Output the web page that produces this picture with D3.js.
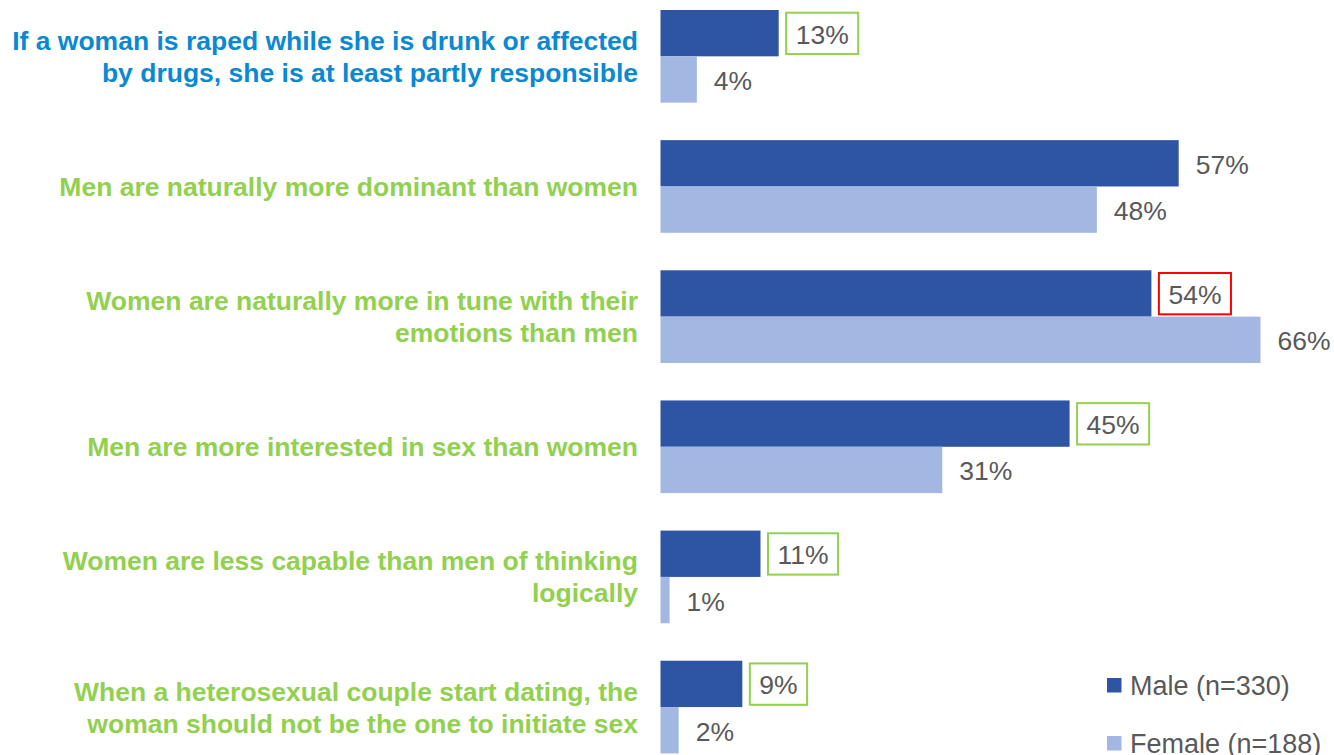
<!DOCTYPE html>
<html>
<head>
<meta charset="utf-8">
<script src="https://cdn.jsdelivr.net/npm/d3@7"></script>
<style>
  html, body { margin: 0; padding: 0; background: #ffffff; }
  svg { display: block; }
  text { font-family: "Liberation Sans", Arial, Helvetica, sans-serif; }
</style>
</head>
<body>
<svg id="chart" width="1334" height="755"></svg>
<script>
// Statements (each "|" starts a new line in the label)
const statements = [
  "If a woman is raped while she is drunk or affected|by drugs, she is at least partly responsible",
  "Men are naturally more dominant than women",
  "Women are naturally more in tune with their|emotions than men",
  "Men are more interested in sex than women",
  "Women are less capable than men of thinking|logically",
  "When a heterosexual couple start dating, the|woman should not be the one to initiate sex"
];
// Share agreeing, in percent
const maleValues   = [13, 57, 54, 45, 11, 9];
const femaleValues = [4, 48, 66, 31, 1, 2];
// Call-out on the male value: "up" = flagged higher, "down" = flagged lower, null = none
const maleFlags = ["up", null, "down", "up", "up", "up"];
// Statement emphasised in the heading colour
const emphasised = [true, false, false, false, false, false];
const seriesNames = ["Male (n=330)", "Female (n=188)"];

const COLORS = {
  male: "#2E54A4",
  female: "#A2B8E2",
  value: "#595959",
  labelGreen: "#92D050",
  labelBlue: "#0A88D2",
  boxUp: "#92D050",
  boxDown: "#FF0000"
};

const svg = d3.select("#chart");

const rows = statements.map((s, i) => ({
  key: s,
  lines: s.split("|"),
  values: [maleValues[i], femaleValues[i]],
  flag: maleFlags[i],
  emph: emphasised[i]
}));

const x = d3.scaleLinear()
  .domain([0, d3.max(maleValues.concat(femaleValues))])
  .range([660.5, 1260.5]);

const y = d3.scaleBand()
  .domain(statements)
  .range([10, 753.4])
  .paddingInner(0.288)
  .paddingOuter(0);

const ySeries = d3.scaleBand()
  .domain([0, 1])
  .range([0, y.bandwidth()]);

const valueFont = 26.5;
const labelFont = 26.5;

const group = svg.selectAll("g.row")
  .data(rows)
  .join("g")
  .attr("class", "row")
  .attr("transform", d => `translate(0,${y(d.key)})`);

// bars
group.selectAll("rect.bar")
  .data(d => d.values.map((v, j) => ({ v, j })))
  .join("rect")
  .attr("class", "bar")
  .attr("x", x(0))
  .attr("y", d => ySeries(d.j))
  .attr("width", d => x(d.v) - x(0))
  .attr("height", ySeries.bandwidth())
  .attr("fill", d => d.j === 0 ? COLORS.male : COLORS.female);

// value labels
group.each(function (d) {
  const g = d3.select(this);
  d.values.forEach((v, j) => {
    const cy = ySeries(j) + ySeries.bandwidth() / 2;
    const t = g.append("text")
      .attr("x", x(v) + 17)
      .attr("y", cy + 10.5)
      .attr("font-size", valueFont)
      .attr("fill", COLORS.value)
      .text(v + "%");
    if (j === 0 && d.flag) {
      const w = t.node().getComputedTextLength();
      g.insert("rect", "text")
        .attr("x", x(v) + 7.5)
        .attr("y", ySeries(j) + 2.7)
        .attr("width", w + 19)
        .attr("height", ySeries.bandwidth() - 5)
        .attr("fill", "#ffffff")
        .attr("stroke", d.flag === "up" ? COLORS.boxUp : COLORS.boxDown)
        .attr("stroke-width", 2);
    }
  });
});

// statement labels, right-aligned against the bars
group.append("text")
  .attr("text-anchor", "end")
  .attr("font-size", labelFont)
  .attr("font-weight", "bold")
  .attr("fill", d => d.emph ? COLORS.labelBlue : COLORS.labelGreen)
  .each(function (d) {
    const n = d.lines.length;
    const lh = 32;
    const mid = y.bandwidth() / 2;
    d3.select(this).selectAll("tspan")
      .data(d.lines)
      .join("tspan")
      .attr("x", 638)
      .attr("y", (l, k) => mid + (k - (n - 1) / 2) * lh + 9.5)
      .text(l => l);
  });

// legend
const legend = svg.append("g")
  .attr("transform", "translate(1107,678)");
const legendItems = legend.selectAll("g")
  .data(seriesNames)
  .join("g")
  .attr("transform", (d, i) => `translate(0,${i * 58})`);
legendItems.append("rect")
  .attr("width", 14.5)
  .attr("height", 14.5)
  .attr("fill", (d, i) => i === 0 ? COLORS.male : COLORS.female);
legendItems.append("text")
  .attr("x", 23)
  .attr("y", 16.5)
  .attr("font-size", 27)
  .attr("fill", COLORS.value)
  .text(d => d);
</script>
</body>
</html>
